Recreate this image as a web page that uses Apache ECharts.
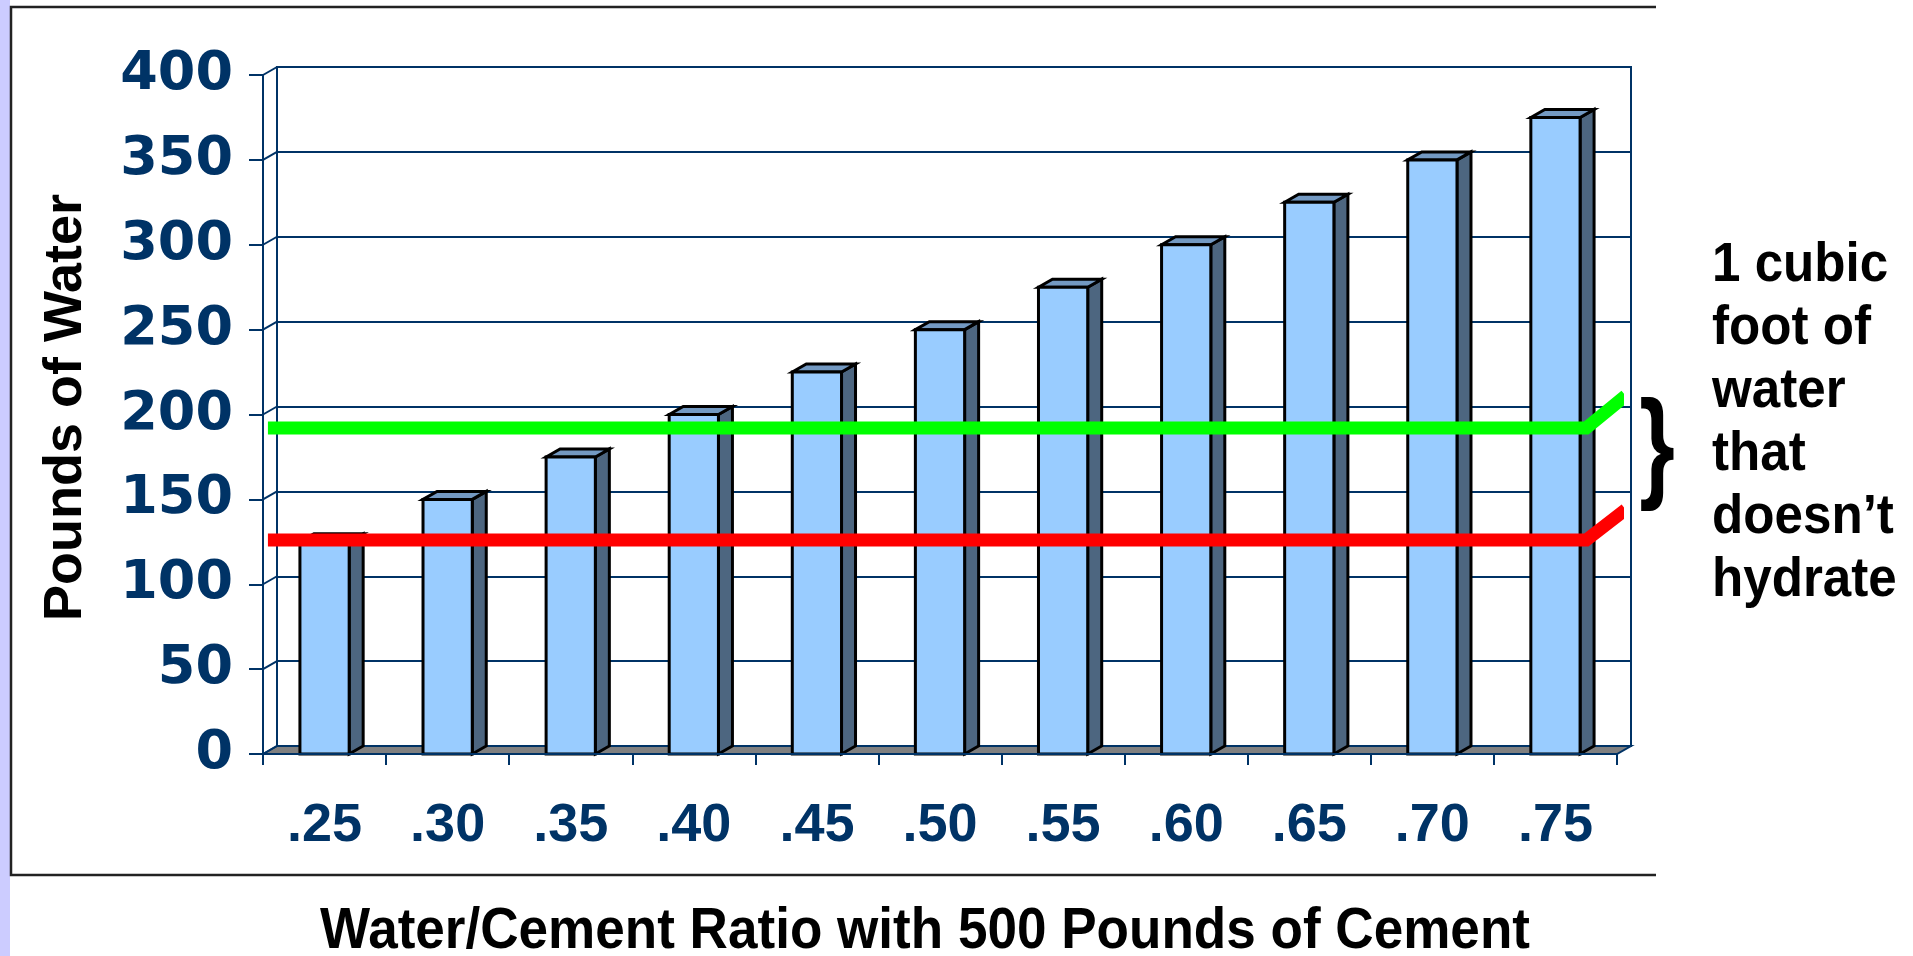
<!DOCTYPE html>
<html><head><meta charset="utf-8">
<script src="https://cdn.jsdelivr.net/npm/echarts@6/dist/echarts.min.js"></script>
<style>html,body{margin:0;padding:0;background:#fff}#c{width:1913px;height:956px}</style>
</head><body><div id="c"></div>
<script>
const categories = ['.25','.30','.35','.40','.45','.50','.55','.60','.65','.70','.75'];
const poundsOfWater = [125,150,175,200,225,250,275,300,325,350,375];
const yTicks = [0,50,100,150,200,250,300,350,400];
const greenLine = [[0.04,192],[10.75,192],[11.07,211]];
const redLine = [[0.04,126],[10.75,126],[11.07,144]];
const yAxisTitle = 'Pounds of Water';
const xAxisTitle = 'Water/Cement Ratio with 500 Pounds of Cement';
const noteLines = ['1 cubic','foot of','water','that','doesn\u2019t','hydrate'];

const NAVY = '#003366';
const DX = 14, DY = -8;
const chart = echarts.init(document.getElementById('c'));

function renderBar(params, api) {
  const x = api.value(0), v = api.value(1);
  const p0 = api.coord([x, 0]), p1 = api.coord([x, v]);
  const w = api.size([1, 0])[0] * 0.4;
  const xl = p0[0] - w / 2, xr = p0[0] + w / 2, y0 = p0[1], y1 = p1[1];
  const st = {stroke: '#000', lineWidth: 3, lineJoin: 'miter'};
  return {type: 'group', children: [
    {type: 'polygon', shape: {points: [[xr, y1], [xr + DX, y1 + DY], [xr + DX, y0 + DY], [xr, y0]]},
      style: Object.assign({fill: '#4d6680'}, st)},
    {type: 'polygon', shape: {points: [[xl, y1], [xl + DX, y1 + DY], [xr + DX, y1 + DY], [xr, y1]]},
      style: Object.assign({fill: '#7399c2'}, st)},
    {type: 'rect', shape: {x: xl, y: y1, width: w, height: y0 - y1},
      style: Object.assign({fill: '#99ccff'}, st)}
  ]};
}

function renderWall(params, api) {
  const cs = params.coordSys;
  const v = api.value(0);
  const p = api.coord([0, v]);
  const xL = cs.x;
  const children = [
    {type: 'line', shape: {x1: xL, y1: p[1], x2: xL + DX, y2: p[1] + DY},
      style: {stroke: NAVY, lineWidth: 2}}
  ];
  if (v === 0) {
    const yb = cs.y + cs.height, xR = cs.x + cs.width;
    children.unshift({type: 'polygon', shape: {points: [[xL, yb], [xL + DX, yb + DY], [xR + DX, yb + DY], [xR, yb]]},
      style: {fill: '#808080', stroke: NAVY, lineWidth: 2}});
  }
  return {type: 'group', children};
}

const option = {
  backgroundColor: '#fff',
  animation: false,
  grid: [
    {left: 263, top: 75, width: 1354, height: 679},
    {left: 263 + DX, top: 75 + DY, width: 1354, height: 679, show: true, borderColor: NAVY, borderWidth: 2, backgroundColor: '#fff'}
  ],
  xAxis: [
    {type: 'category', gridIndex: 0, data: categories, boundaryGap: true,
      axisLine: {show: true, lineStyle: {color: NAVY, width: 2}},
      axisTick: {show: true, length: 11, lineStyle: {color: NAVY, width: 2}},
      axisLabel: {color: NAVY, fontFamily: 'Liberation Sans', fontWeight: 'bold', fontSize: 54, margin: 45},
      z: 5},
    {type: 'value', gridIndex: 0, min: 0, max: 11, show: false},
    {type: 'category', gridIndex: 1, data: categories, show: false}
  ],
  yAxis: [
    {type: 'value', gridIndex: 0, min: 0, max: 400, interval: 50,
      name: yAxisTitle, nameLocation: 'middle', nameGap: 170, nameRotate: 90,
      nameTextStyle: {color: '#000', fontFamily: 'Liberation Sans', fontWeight: 'bold', fontSize: 54, padding: [0, 0, 0, 14]},
      axisLine: {show: true, lineStyle: {color: NAVY, width: 2}},
      axisTick: {show: true, length: 14, lineStyle: {color: NAVY, width: 2}},
      axisLabel: {color: NAVY, fontFamily: 'DejaVu Sans', fontWeight: 'bold', fontSize: 54, margin: 30},
      splitLine: {show: false}, z: 5},
    {type: 'value', gridIndex: 1, min: 0, max: 400, interval: 50,
      axisLine: {show: false}, axisTick: {show: false}, axisLabel: {show: false},
      splitLine: {show: true, lineStyle: {color: NAVY, width: 2}}}
  ],
  series: [
    {type: 'custom', xAxisIndex: 0, yAxisIndex: 0, data: yTicks.map(v => [v]), renderItem: renderWall, z: 1, silent: true},
    {type: 'custom', xAxisIndex: 0, yAxisIndex: 0, data: poundsOfWater.map((v, i) => [i, v]), renderItem: renderBar, z: 3},
    {type: 'line', xAxisIndex: 1, yAxisIndex: 0, data: greenLine, symbol: 'none', clip: false, z: 10,
      lineStyle: {color: '#00ff00', width: 13, cap: 'butt', join: 'miter'}},
    {type: 'line', xAxisIndex: 1, yAxisIndex: 0, data: redLine, symbol: 'none', clip: false, z: 10,
      lineStyle: {color: '#ff0000', width: 13, cap: 'butt', join: 'miter'}}
  ],
  graphic: [
    {type: 'rect', left: 0, top: 0, shape: {width: 10, height: 956}, style: {fill: '#ccccff'}, z: 0},
    {type: 'polyline', shape: {points: [[1656, 7], [11, 7], [11, 875], [1656, 875]]},
      style: {stroke: '#222', lineWidth: 2.5, fill: null}, z: 20},
    {type: 'text', x: 925, y: 932, scaleX: 0.915,
      style: {text: xAxisTitle, fill: '#000', font: 'bold 58px "Liberation Sans"', align: 'center', verticalAlign: 'middle'}, z: 20},
    {type: 'text', x: 1712, y: 234, scaleX: 0.93,
      style: {text: noteLines.join('\n'), fill: '#000', font: 'bold 55px "Liberation Sans"', lineHeight: 63, align: 'left', verticalAlign: 'top'}, z: 20},
    {type: 'text', x: 1657, y: 452, scaleX: 0.75,
      style: {text: '}', fill: '#000', font: 'bold 122px "Liberation Sans"', align: 'center', verticalAlign: 'middle'}, z: 20}
  ]
};
chart.setOption(option);
</script></body></html>
